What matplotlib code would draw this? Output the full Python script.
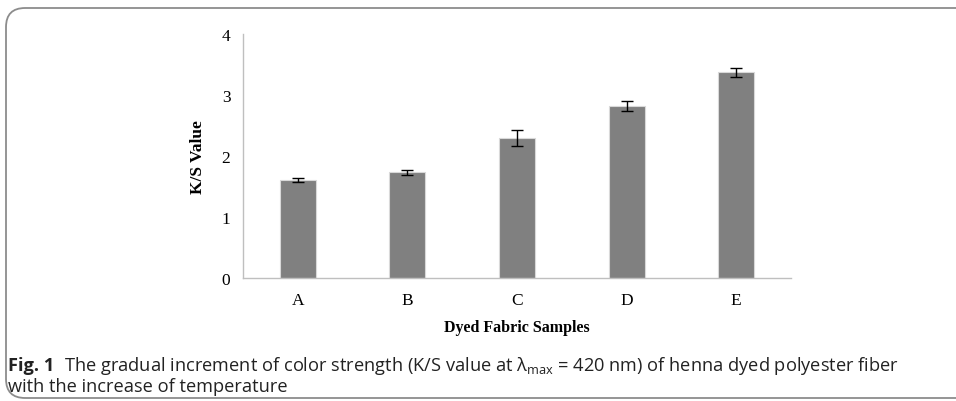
import numpy as np
import matplotlib.pyplot as plt
from matplotlib.patches import FancyBboxPatch

# data
samples = ['A', 'B', 'C', 'D', 'E']
ks_values = [1.61, 1.73, 2.30, 2.82, 3.37]
ks_errors = [0.035, 0.04, 0.13, 0.075, 0.075]

cap_font = 'Open Sans'
plt.rcParams['mathtext.fontset'] = 'custom'
plt.rcParams['mathtext.rm'] = cap_font

fig = plt.figure(figsize=(9.56, 4.02), dpi=100)
W, H = 956, 402

# axes placed in pixel terms: x 243..791, y 35..279
ax = fig.add_axes([243 / W, 1 - 279 / H, (791 - 243) / W, (279 - 35) / H])
x = np.arange(len(samples))
ax.bar(x, ks_values, width=0.33, color='#808080', edgecolor='#d9d9d9', linewidth=0.8,
       yerr=ks_errors, capsize=4, error_kw=dict(ecolor='black', elinewidth=1, capthick=1))
ax.set_xlim(-0.5, 4.5)
ax.set_ylim(0, 4)
ax.set_yticks([0, 1, 2, 3, 4])
ax.set_xticks(x)
ax.set_xticklabels(samples)
for s in ['top', 'right']:
    ax.spines[s].set_visible(False)
for s in ['left', 'bottom']:
    ax.spines[s].set_color('#bfbfbf')
    ax.spines[s].set_linewidth(1)
ax.tick_params(length=0, labelsize=12.5, pad=10)
ax.tick_params(axis='y', pad=9)
for lab in ax.get_xticklabels() + ax.get_yticklabels():
    lab.set_fontfamily('Liberation Serif')
ax.set_ylabel('K/S Value', fontfamily='Liberation Serif', fontweight='bold', fontsize=12.5, labelpad=11)
ax.set_xlabel('Dyed Fabric Samples', fontfamily='Liberation Serif', fontweight='bold', fontsize=11.5, labelpad=8)

# frame round the figure
frame = FancyBboxPatch((6 / W, 3 / H), 1.2, 1 - 12 / H, boxstyle='round,pad=0,rounding_size=0.02',
                       transform=fig.transFigure, facecolor='none', edgecolor='#8c8c8c',
                       linewidth=1.3, mutation_aspect=W / H)
fig.patches.append(frame)

# caption, sized so the first line spans about 8..902 px
line1 = 'The gradual increment of color strength (K/S value at λ$_{\\mathrm{max}}$ = 420 nm) of henna dyed polyester fiber'
line2 = 'with the increase of temperature'
renderer = fig.canvas.get_renderer()
fs = 12.5
for _ in range(3):
    t0 = fig.text(8 / W, 1 - 366 / H, 'Fig. 1', fontsize=fs, fontweight='bold', va='center', fontfamily=cap_font)
    w0 = t0.get_window_extent(renderer).width
    t1 = fig.text((8 + w0 + 10) / W, 1 - 366 / H, line1, fontsize=fs, va='center', fontfamily=cap_font)
    end = t1.get_window_extent(renderer).x1
    t0.remove()
    t1.remove()
    fs = fs * (902 - 8) / (end - 8)
t0 = fig.text(8 / W, 1 - 366 / H, 'Fig. 1', fontsize=fs, fontweight='bold', va='center',
              fontfamily=cap_font, color='#222222')
w0 = t0.get_window_extent(renderer).width
fig.text((8 + w0 + 10) / W, 1 - 366 / H, line1, fontsize=fs, va='center', fontfamily=cap_font, color='#222222')
fig.text(8 / W, 1 - 387 / H, line2, fontsize=fs, va='center', fontfamily=cap_font, color='#222222')

fig.savefig('out.png', dpi=100)
